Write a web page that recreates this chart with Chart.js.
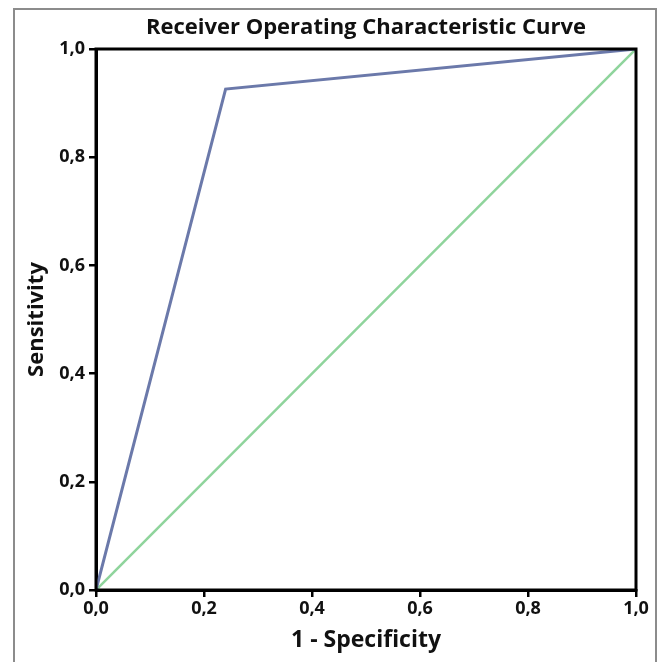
<!DOCTYPE html>
<html>
<head>
<meta charset="utf-8">
<script src="https://cdn.jsdelivr.net/npm/chart.js@4.4.0/dist/chart.umd.min.js"></script>
<style>
    html, body { margin: 0; padding: 0; background: #fff; overflow: hidden; }
    #frame { position: absolute; left: 13px; top: 8px; width: 640px; height: 700px; border: 2px solid #8c8c8c; }
    #wrap { position: absolute; left: 0; top: 0; width: 660px; height: 662px; }
</style>
</head>
<body>
<div id="frame"></div>
<div id="wrap"><canvas id="roc" width="660" height="662"></canvas></div>
<script>
// ROC curve points (1 - specificity, sensitivity)
const rocX = [0, 0.24, 1];
const rocY = [0, 0.926, 1];
// reference diagonal
const refX = [0, 1];
const refY = [0, 1];
const tickValues = [0, 0.2, 0.4, 0.6, 0.8, 1.0];
const chartTitle = 'Receiver Operating Characteristic Curve';

const FONT = "'Open Sans', 'DejaVu Sans', sans-serif";

function toPoints(xs, ys) {
    return xs.map(function (x, i) { return { x: x, y: ys[i] }; });
}

function fmt(v) {
    return v.toFixed(1).replace('.', ',');
}

// box around the plot area + title centred over the plot
const frameBox = {
    id: 'frameBox',
    afterDatasetsDraw: function (chart) {
        const a = chart.chartArea;
        const ctx = chart.ctx;
        ctx.save();
        ctx.strokeStyle = '#000';
        ctx.lineWidth = 3;
        ctx.strokeRect(a.left, a.top, a.right - a.left, a.bottom - a.top);
        ctx.fillStyle = '#111';
        ctx.font = 'bold 22px ' + FONT;
        ctx.textAlign = 'center';
        ctx.textBaseline = 'middle';
        ctx.fillText(chartTitle, (a.left + a.right) / 2, 28);
        ctx.restore();
    }
};

const ctx = document.getElementById('roc').getContext('2d');
new Chart(ctx, {
    type: 'scatter',
    data: {
        datasets: [{
            label: 'Reference',
            data: toPoints(refX, refY),
            showLine: true,
            borderColor: '#8fd49c',
            borderWidth: 2.5,
            pointRadius: 0,
            tension: 0,
            order: 2
        }, {
            label: 'ROC',
            data: toPoints(rocX, rocY),
            showLine: true,
            borderColor: '#6b79aa',
            borderWidth: 3,
            pointRadius: 0,
            tension: 0,
            order: 1
        }]
    },
    options: {
        responsive: false,
        animation: false,
        layout: { padding: { left: 20, right: 24, top: 49, bottom: 0 } },
        plugins: {
            legend: { display: false },
            tooltip: { enabled: false },
            title: { display: false }
        },
        scales: {
            x: {
                type: 'linear',
                min: 0,
                max: 1,
                afterBuildTicks: function (s) { s.ticks = tickValues.map(function (v) { return { value: v }; }); },
                afterFit: function (s) { s.height = 72; },
                ticks: {
                    callback: fmt,
                    color: '#111',
                    padding: 1,
                    maxRotation: 0,
                    font: { family: FONT, size: 18, weight: 'bold' }
                },
                grid: { drawOnChartArea: false, drawTicks: true, tickLength: 7, color: '#000', lineWidth: 2.5 },
                border: { display: true, color: '#000', width: 3 },
                title: {
                    display: true,
                    text: '1 - Specificity',
                    color: '#111',
                    font: { family: FONT, size: 23, weight: 'bold' },
                    padding: { top: 0, bottom: 8 }
                }
            },
            y: {
                type: 'linear',
                min: 0,
                max: 1,
                afterBuildTicks: function (s) { s.ticks = tickValues.map(function (v) { return { value: v }; }); },
                afterFit: function (s) { s.width = 76; },
                ticks: {
                    callback: fmt,
                    color: '#111',
                    padding: 4,
                    font: { family: FONT, size: 18, weight: 'bold' }
                },
                grid: { drawOnChartArea: false, drawTicks: true, tickLength: 7, color: '#000', lineWidth: 2.5 },
                border: { display: true, color: '#000', width: 3 },
                title: {
                    display: true,
                    text: 'Sensitivity',
                    color: '#111',
                    font: { family: FONT, size: 22, weight: 'bold' },
                    padding: { top: 4, bottom: 0 }
                }
            }
        }
    },
    plugins: [frameBox]
});
</script>
</body>
</html>
